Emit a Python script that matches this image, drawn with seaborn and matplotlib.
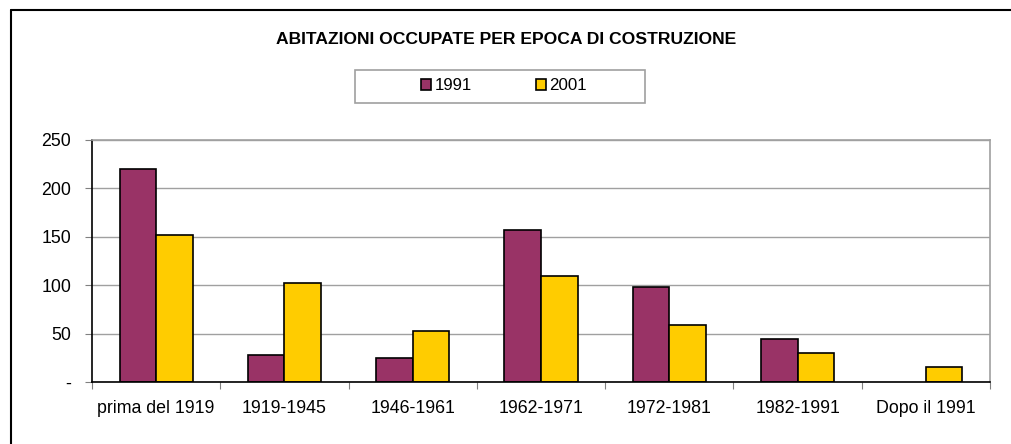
import matplotlib
matplotlib.use("Agg")
import matplotlib.pyplot as plt
import seaborn as sns
import pandas as pd
import numpy as np
from matplotlib.lines import Line2D
from matplotlib.patches import Patch, Rectangle

categories = ["prima del 1919", "1919-1945", "1946-1961", "1962-1971",
              "1972-1981", "1982-1991", "Dopo il 1991"]
values_1991 = [220, 28, 25, 157, 98, 44, np.nan]
values_2001 = [152, 102, 53, 109, 59, 30, 15]
series = ["1991", "2001"]
colors = ["#993366", "#FFCC00"]
yticks = [0, 50, 100, 150, 200, 250]
ytick_labels = ["-", "50", "100", "150", "200", "250"]

df = pd.DataFrame({
    "epoca": categories * 2,
    "anno": [series[0]] * len(categories) + [series[1]] * len(categories),
    "abitazioni": values_1991 + values_2001,
})

sns.set_theme(style="white")
plt.rcParams["font.family"] = ["Liberation Sans", "DejaVu Sans"]
plt.rcParams["text.color"] = "black"

fig = plt.figure(figsize=(10.12, 4.44), dpi=100)
ax = fig.add_axes([92 / 1012, 62 / 444, 898 / 1012, 242 / 444])

sns.barplot(data=df, x="epoca", y="abitazioni", hue="anno",
            palette=colors, order=categories, hue_order=series,
            width=0.57, edgecolor="black", linewidth=1.2,
            saturation=1, legend=False, ax=ax)

ax.set_xlim(-0.5, len(categories) - 0.5)
ax.set_ylim(0, 250)
ax.set_yticks(yticks)
ax.set_yticklabels(ytick_labels)
ax.yaxis.grid(True, color="#a0a0a0", linewidth=1)
ax.set_axisbelow(True)
ax.set_xlabel("")
ax.set_ylabel("")

# category separators as ticks along the x axis
ax.set_xticks(np.arange(len(categories)))
ax.set_xticklabels(categories)
ax.set_xticks(np.arange(len(categories) + 1) - 0.5, minor=True)
ax.tick_params(axis="x", which="major", length=0, pad=13, labelsize=12.8, labelcolor="black")
ax.tick_params(axis="x", which="minor", length=5, width=0.8, color="#808080", bottom=True)
ax.tick_params(axis="y", which="major", length=5, width=0.8, color="#808080",
               left=True, labelsize=12.8, labelcolor="black", pad=10)

for side in ("left", "bottom"):
    ax.spines[side].set_color("black")
    ax.spines[side].set_linewidth(1.2)
for side in ("top", "right"):
    ax.spines[side].set_color("#a0a0a0")
    ax.spines[side].set_linewidth(1.2)

fig.text(506 / 1012, 1 - 40 / 444, "ABITAZIONI OCCUPATE PER EPOCA DI COSTRUZIONE",
         ha="center", va="center", fontsize=12.6, fontweight="bold", color="black")

# legend box
fig.add_artist(Rectangle((355 / 1012, 1 - 103 / 444), 290 / 1012, 33 / 444,
                         transform=fig.transFigure, facecolor="white",
                         edgecolor="#a0a0a0", linewidth=1.2))
handles = [Patch(facecolor=c, edgecolor="black", linewidth=1.2) for c in colors]
leg = fig.legend(handles, series, loc="center",
                 bbox_to_anchor=(504 / 1012, 1 - 86 / 444),
                 ncol=2, frameon=False, labelcolor="black",
                 handlelength=0.6, handleheight=0.6, handletextpad=0.2,
                 fontsize=12.2, columnspacing=3.75)

# outer chart frame
fig.add_artist(Line2D([11 / 1012, 11 / 1012], [0, 1 - 10 / 444],
                      transform=fig.transFigure, color="black", linewidth=1.5))
fig.add_artist(Line2D([11 / 1012, 1], [1 - 10 / 444, 1 - 10 / 444],
                      transform=fig.transFigure, color="black", linewidth=1.5))

fig.savefig("out.png", dpi=100)
